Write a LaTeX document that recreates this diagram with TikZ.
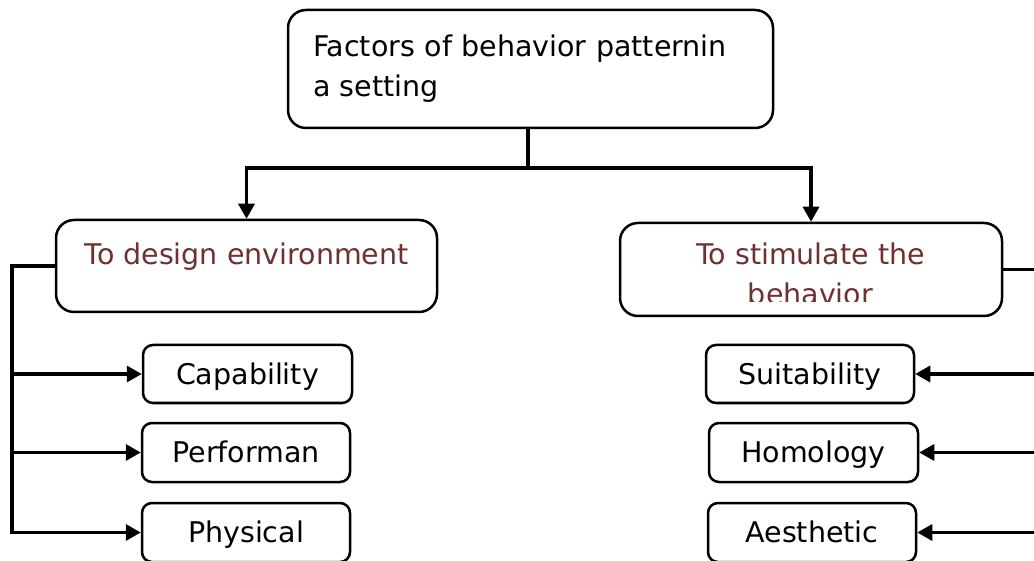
\documentclass[tikz,border=0pt]{standalone}
\usepackage{fontspec}
\setmainfont{DejaVu Sans}
\usetikzlibrary{arrows.meta}
\definecolor{headbrown}{RGB}{110,48,48}
\tikzset{
  bigbox/.style={draw=black, line width=2.5pt, rounded corners=18pt, fill=white, inner sep=0pt},
  smallbox/.style={draw=black, line width=2.5pt, rounded corners=10pt, fill=white, inner sep=0pt,
                   font=\fontsize{28.5}{34}\selectfont, text depth=1pt},
  conn/.style={draw=black, line width=3.2pt},
  arr/.style={conn, -{Triangle[length=15pt,width=16pt]}},
  headtext/.style={text=headbrown, font=\fontsize{28.5}{34}\selectfont, inner sep=0pt, anchor=base}
}
\begin{document}
\begin{tikzpicture}[x=1pt,y=-1pt]
\useasboundingbox (0,0) rectangle (1034,561);
% top box
\node[bigbox, minimum height=118pt, text width=435pt, inner xsep=25pt, align=left,
      font=\fontsize{28.5}{40}\selectfont] (top) at (530.5,69) {Factors of behavior patternin\\a setting};
% second level boxes
\node[bigbox, minimum width=381pt, minimum height=92pt] (lbox) at (246.5,266) {};
\node[headtext] (ltext) at (246.5,265) {To design environment};
\node[bigbox, minimum width=382pt, minimum height=93pt] (rbox) at (811,269.5) {};
\begin{scope}
  \clip (620,223) rectangle (1002,302);
  \node[headtext] (rtext) at (810.5,265) {To stimulate the};
  \node[headtext] (rtext2) at (810.5,305) {behavior};
\end{scope}
% third level boxes (left)
\node[smallbox, minimum width=209pt, minimum height=58pt] (cap) at (247.5,374) {Capability};
\node[smallbox, minimum width=208pt, minimum height=59pt] (perf) at (246,452.5) {Performan};
\node[smallbox, minimum width=208pt, minimum height=59pt] (phys) at (246,532.5) {Physical};
% third level boxes (right)
\node[smallbox, minimum width=208pt, minimum height=58pt] (suit) at (810,374) {Suitability};
\node[smallbox, minimum width=209pt, minimum height=59pt] (homo) at (813.5,452.5) {Homology};
\node[smallbox, minimum width=208pt, minimum height=59pt] (aest) at (812,532.5) {Aesthetic};
% top connectors
\coordinate (jn) at (528,168);
\draw[conn] (top.south -| jn) -- (jn);
\draw[arr] (jn) -| (lbox.north);
\draw[arr] (jn) -| (rbox.north);
% left rail
\coordinate (lrail) at (12,0);
\draw[arr] (lbox.west) -- (lbox.west -| lrail) |- (phys.west);
\draw[arr] (lbox.west -| lrail) |- (cap.west);
\draw[arr] (lbox.west -| lrail) |- (perf.west);
% right rail (runs off the right edge)
\coordinate (rrail) at (1034,0);
\draw[conn] (rbox.east) -- (rbox.east -| rrail);
\draw[arr] (suit.east -| rrail) -- (suit.east);
\draw[arr] (homo.east -| rrail) -- (homo.east);
\draw[arr] (aest.east -| rrail) -- (aest.east);
\end{tikzpicture}
\end{document}
